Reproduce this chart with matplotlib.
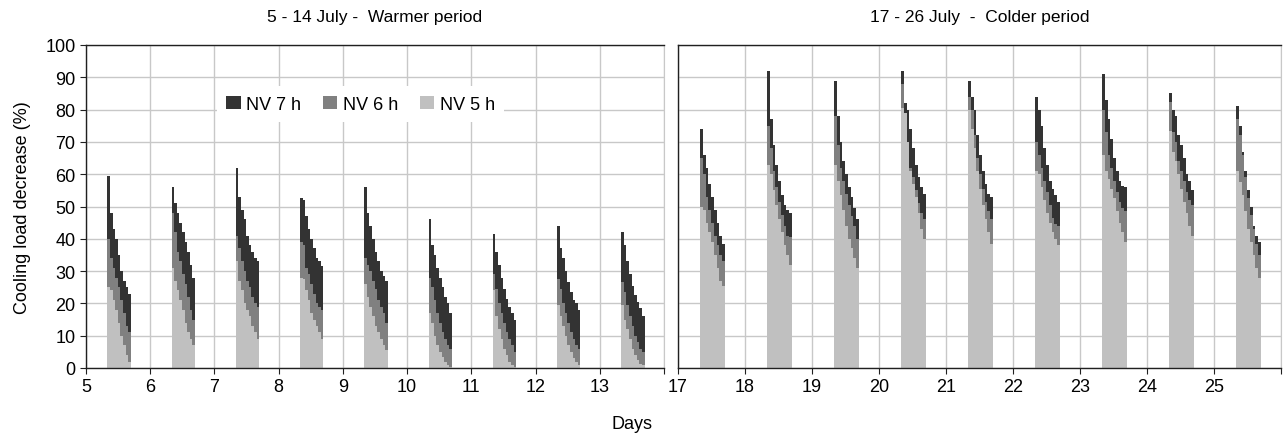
import numpy as np
import matplotlib
matplotlib.use("Agg")
import matplotlib.pyplot as plt
from matplotlib.patches import Patch

plt.rcParams["font.family"] = ["Liberation Sans", "DejaVu Sans"]

# hourly cooling load decrease (%), 8:00 .. 16:00, one row per day
warm_days = [5, 6, 7, 8, 9, 10, 11, 12, 13]
cold_days = [17, 18, 19, 20, 21, 22, 23, 24, 25]

warm_nv7 = [
    [59.5, 48, 43, 40, 35, 30, 27, 25, 23],
    [56, 51, 48, 45, 42, 39, 36, 32, 28],
    [62, 53, 49, 46, 41, 38, 36, 34, 33],
    [52.5, 52, 47, 43, 40, 37, 34, 33, 31.5],
    [56, 48, 44, 40, 36, 33, 30, 28.5, 27],
    [46, 38, 35, 31, 28, 25, 22, 20, 17],
    [41.5, 36, 32, 28, 24.5, 21.5, 19, 17, 15],
    [44, 37, 34, 30, 26.5, 23.5, 21, 20, 18],
    [42, 38, 33, 29, 25.5, 22.5, 20.5, 18.5, 16],
]
warm_nv6 = [
    [40, 34, 31, 28, 25, 21, 17, 13, 11],
    [48, 42, 36, 33, 29, 26, 22, 18, 15],
    [41, 37, 33, 30, 27, 25, 22, 20, 19],
    [39, 38, 31, 29, 26, 23, 20, 19, 18],
    [34, 32, 30, 27, 24.5, 21, 19, 17, 14],
    [28, 25, 21, 17, 14, 11, 9, 7, 6],
    [29, 24.5, 20, 17, 14, 11, 9, 7, 5],
    [27.5, 24.5, 20, 17, 14, 11, 9, 7, 6],
    [26.5, 23.5, 19.5, 16, 13, 10, 8, 6, 5],
]
warm_nv5 = [
    [25, 24, 21, 18, 14, 10, 7, 4, 2],
    [31, 27, 24, 21, 18, 14, 11, 9, 7],
    [33, 27, 24, 20, 18, 16, 13, 11, 9],
    [28, 27.5, 24, 21, 17, 15, 13, 11, 9],
    [26, 22, 19, 16, 13, 11, 9, 7, 5.5],
    [17, 14, 10, 7, 5, 3.5, 2, 1, 0.3],
    [24, 16, 12, 9, 6, 4, 2, 1, 0.3],
    [19.5, 16, 13, 10, 7, 5, 3, 2, 1],
    [19.5, 15, 12, 9, 6, 4, 2.5, 1.3, 0.8],
]

cold_nv7 = [
    [74, 66, 62, 57, 53, 49, 45, 41, 38.5],
    [92, 77, 69, 63, 58, 53.5, 50.5, 49, 48],
    [89, 78, 70, 64, 60, 56, 53, 49.5, 46],
    [92, 82, 80, 74, 68, 63, 59, 56, 54],
    [89, 84, 80, 72, 66, 61, 57, 54, 53],
    [84, 80, 75, 68, 63, 58, 55.5, 53.5, 51.5],
    [91, 83, 77, 71, 65, 61, 58, 56.5, 56],
    [85, 80, 78, 72, 69, 65, 60, 58, 55],
    [81, 75, 67, 61, 55, 50, 44, 41, 39],
]
cold_nv6 = [
    [65, 60, 53, 49, 45, 41, 38, 35, 33],
    [75, 68, 61, 56, 51.5, 47.5, 44, 41, 40.5],
    [78, 69, 62, 58, 54, 50.5, 47, 44, 40],
    [88, 76, 69, 62, 59, 55, 51, 48, 46],
    [84, 80, 72, 65, 60, 55.5, 51.5, 48.5, 46],
    [70, 66, 62, 58, 54.5, 50.5, 46.5, 44.5, 44],
    [80, 73, 66, 62, 58, 54.5, 51.5, 49.5, 48.5],
    [82.5, 73, 70, 64, 61, 58, 54.5, 52, 50.5],
    [77, 72, 66, 59, 52.5, 47.5, 43, 38.5, 35],
]
cold_nv5 = [
    [50, 49, 45, 42, 39, 35, 31, 27, 25.5],
    [63, 60, 55, 50.5, 46, 42, 38, 35, 32],
    [63, 58, 53.5, 49, 44, 40, 37, 34, 31],
    [80.5, 79, 70, 61, 57, 53, 48, 43, 40],
    [80, 74, 68, 61, 55.5, 50.5, 46, 42, 38.5],
    [61, 60, 56, 52, 48, 45, 42, 40, 38],
    [66, 61, 58.5, 55.5, 52.5, 48.5, 45, 42, 39],
    [73.5, 67, 64, 60, 55.5, 51.5, 48, 44, 41],
    [61, 57.5, 53.5, 48.5, 43, 39, 35, 31, 28],
]

series_names = ["NV 7 h", "NV 6 h", "NV 5 h"]
colors = ["#333333", "#808080", "#c0c0c0"]

# occupied hours 8:00 - 16:45, nine steps
step_edges = np.linspace(8, 16.75, 10) / 24.0

fig = plt.figure(figsize=(12.87, 4.39), dpi=100)
W, H = 1287, 439
ax1 = fig.add_axes([86 / W, (H - 369) / H, (664 - 86) / W, 323 / H])
ax2 = fig.add_axes([678 / W, (H - 369) / H, (1281 - 678) / W, 323 / H])


def draw_panel(ax, days, nv7, nv6, nv5):
    for i, d in enumerate(days):
        for vals, c in zip([nv7[i], nv6[i], nv5[i]], colors):
            ax.stairs(vals, d + step_edges, baseline=0, fill=True,
                      color=c, linewidth=0, zorder=2)
    ax.set_xlim(days[0], days[0] + 9)
    ax.set_ylim(0, 100)
    ax.set_xticks(range(days[0], days[0] + 10))
    ax.set_xticklabels([str(d) for d in days] + [""])
    ax.set_yticks(range(0, 101, 10))
    ax.grid(True, color="#c8c8c8", linewidth=1.0, zorder=0)
    ax.set_axisbelow(True)
    ax.tick_params(axis="both", labelsize=13, length=4, color="#202020",
                   direction="out")
    for s in ["left", "bottom", "top"]:
        ax.spines[s].set_color("#202020")
        ax.spines[s].set_linewidth(1.0)
    ax.spines["right"].set_color("#c8c8c8")


draw_panel(ax1, warm_days, warm_nv7, warm_nv6, warm_nv5)
draw_panel(ax2, cold_days, cold_nv7, cold_nv6, cold_nv5)
ax2.tick_params(axis="y", left=False, labelleft=False)

ax1.set_title("5 - 14 July -  Warmer period", fontsize=12.5, pad=17)
ax2.set_title("17 - 26 July  -  Colder period", fontsize=12.5, pad=17)
ax1.set_ylabel("Cooling load decrease (%)", fontsize=13, labelpad=10)
fig.text(632 / W, 1 - 425 / H, "Days", ha="center", va="center", fontsize=13)

handles = [Patch(facecolor=c, edgecolor="none") for c in colors]
leg = ax1.legend(handles, series_names, loc="center", bbox_to_anchor=(0.475, 0.817),
                 ncol=3, frameon=True, framealpha=1.0, facecolor="white",
                 edgecolor="none", fancybox=False, fontsize=13,
                 handlelength=0.8, handleheight=0.8, handletextpad=0.3,
                 columnspacing=1.2, borderpad=0.5)
leg.set_zorder(5)

fig.savefig("out.png", dpi=100)
